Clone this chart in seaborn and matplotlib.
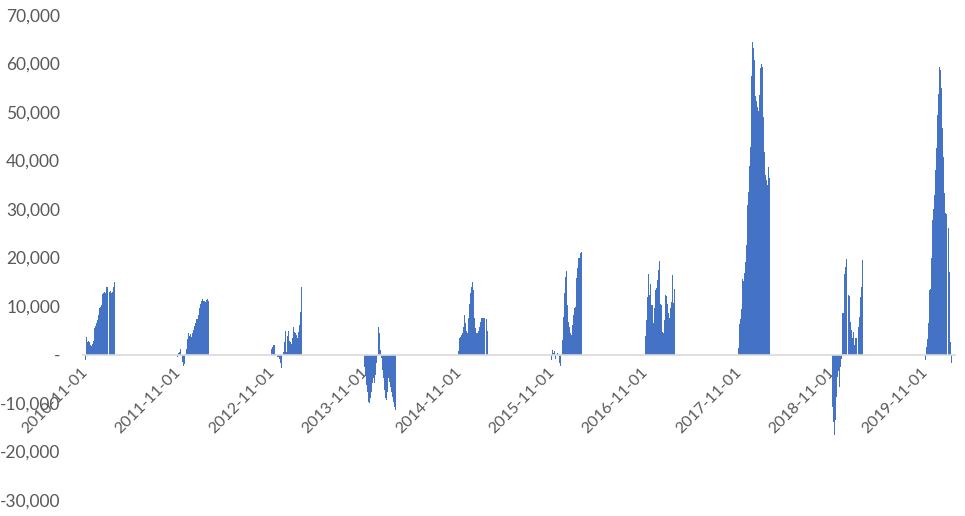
import matplotlib
matplotlib.use("Agg")
import matplotlib.pyplot as plt
import numpy as np
import pandas as pd
import seaborn as sns

# ---------------- data (values sampled about every 4 days per season) ----------------
season_starts = ["2010-11-01", "2011-10-27", "2012-10-28", "2013-10-27", "2014-10-30",
                 "2015-10-28", "2016-10-30", "2017-10-29", "2018-11-01", "2019-10-30"]

v2010 = [-1100, 3700, 2600, 2800, 2600, 1900, 1700, 2200, 2700, 5400, 5800, 6500, 7100, 8100,
         9600, 9800, 10300, 12500, 12600, 12800, 12600, 13900, 13900, 0, 12900, 13100, 12700,
         12800, 13900, 14900]
v2011 = [-450, 250, 600, 1100, 0, -1500, -2400, -2000, 100, 1100, 3100, 4400, 3800, 4200, 3700,
         4400, 5000, 5900, 6400, 7300, 7300, 8100, 9500, 10500, 11100, 11400, 11000, 11100, 10900,
         11300, 11400, 11000]
v2012 = [1100, 1600, 2000, 2000, 100, 0, -600, -600, -1000, -1800, -2800, 0, 600, 2600, 4800, 600,
         3800, 4900, 2800, 2600, 2200, 3500, 5700, 4700, 4400, 4000, 3500, 4600, 6100, 8800, 13900]
v2013 = [-2500, -4200, -6300, -7700, -9700, -10000, -9000, -7700, -5900, -4900, -5900, -4200,
         -1800, -400, 5700, 4400, 1000, -800, -3200, -4900, -7300, -9000, -9400, -7700, -4900,
         -5600, -6600, -7700, -8700, -9700, -10800, -11400]
v2014 = [700, 3500, 3600, 4000, 4400, 5700, 8100, 6400, 4900, 4400, 7500, 10500, 12600, 14000,
         14900, 13300, 7500, 5400, 4400, 4400, 4900, 5700, 6800, 7500, 7600, 7600, 7500, 0, 7300,
         4900]
v2015 = [-1100, 900, 250, 700, -900, 0, 250, 0, -1800, -2300, 0, 3000, 7800, 12600, 16000, 17200,
         10200, 6800, 5700, 4400, 4100, 6100, 8100, 9600, 9800, 15700, 17800, 19800, 19800, 20900,
         21100]
v2016 = [3800, 7100, 11900, 16500, 12300, 14500, 10300, 10300, 6400, 9500, 13300, 13800, 15400,
         17400, 19300, 10500, 10200, 4700, 4400, 7100, 12300, 12000, 10500, 8500, 7600, 9500,
         10800, 16400, 10600, 13600]
v2017 = [1300, 6200, 7300, 9400, 15600, 15200, 16900, 19100, 22600, 30800, 33600, 38900, 42800,
         57500, 64400, 63100, 60700, 53200, 52300, 51100, 50200, 53600, 59000, 60000, 59300,
         49000, 41800, 37000, 36000, 34900, 38700, 36300]
v2018 = [-10800, -13900, -16600, -13500, -8700, -4600, -3500, -6600, -2500, -1000, 8500, 8500,
         16700, 18100, 19600, 0, 12300, 12000, 6800, 5100, 3300, 4700, 2000, 3300, 3300, 0, 5700,
         7800, 11900, 14000, 19500]
v2019 = [-1100, 1600, 3100, 6400, 13400, 13600, 19800, 27700, 30100, 32900, 38000, 42500, 49400,
         53800, 59200, 58700, 54900, 46600, 40800, 33200, 29100, 29000, 0, 26000, 17000, 2500,
         -1800]

tick_dates = ["2010-11-01", "2011-11-01", "2012-11-01", "2013-11-01", "2014-11-01",
              "2015-11-01", "2016-11-01", "2017-11-01", "2018-11-01", "2019-11-01"]
y_ticks = [-30000, -20000, -10000, 0, 10000, 20000, 30000, 40000, 50000, 60000, 70000]
y_labels = ["-30,000", "-20,000", "-10,000", "-", "10,000", "20,000", "30,000",
            "40,000", "50,000", "60,000", "70,000"]

# ---------------- build table ----------------
origin = pd.Timestamp("2010-11-01")
STEP = 3.911  # days between samples
seasons = [v2010, v2011, v2012, v2013, v2014, v2015, v2016, v2017, v2018, v2019]
rows = []
for start, vals in zip(season_starts, seasons):
    d0 = (pd.Timestamp(start) - origin).days
    for i, v in enumerate(vals):
        rows.append((d0 + i * STEP, v))
df = pd.DataFrame(rows, columns=["day", "value"])

# ---------------- plot ----------------
sns.set_theme(style="white")
plt.rcParams["font.family"] = ["Lato", "DejaVu Sans"]

fig = plt.figure(figsize=(9.65, 5.16), dpi=100)
ax = fig.add_axes([83 / 965, 16 / 516, 872 / 965, 485 / 516])

sns.barplot(data=df, x="day", y="value", native_scale=True, width=1.05,
            color="#4472C4", saturation=1, errorbar=None, linewidth=0, ax=ax)

ax.set_xlim((83 - 85.5) / 0.2557, (955 - 85.5) / 0.2557)
ax.set_ylim(-30000, 70000)

for s in ["left", "top", "right"]:
    ax.spines[s].set_visible(False)
ax.spines["bottom"].set_position(("data", 0))
ax.spines["bottom"].set_color("#D9D9D9")
ax.spines["bottom"].set_linewidth(1.2)

tick_pos = [(pd.Timestamp(t) - origin).days for t in tick_dates]
ax.set_xticks(tick_pos)
ax.set_xticklabels(tick_dates, rotation=45, ha="right", va="center",
                   rotation_mode="anchor", fontsize=11.5, color="#595959")
ax.set_yticks(y_ticks)
ax.set_yticklabels(y_labels, fontsize=12.5, color="#595959")
ax.tick_params(axis="x", length=0, pad=11)
ax.tick_params(axis="y", length=0, pad=16.5)
ax.set_xlabel("")
ax.set_ylabel("")
ax.grid(False)

fig.savefig("out.png", dpi=100)
